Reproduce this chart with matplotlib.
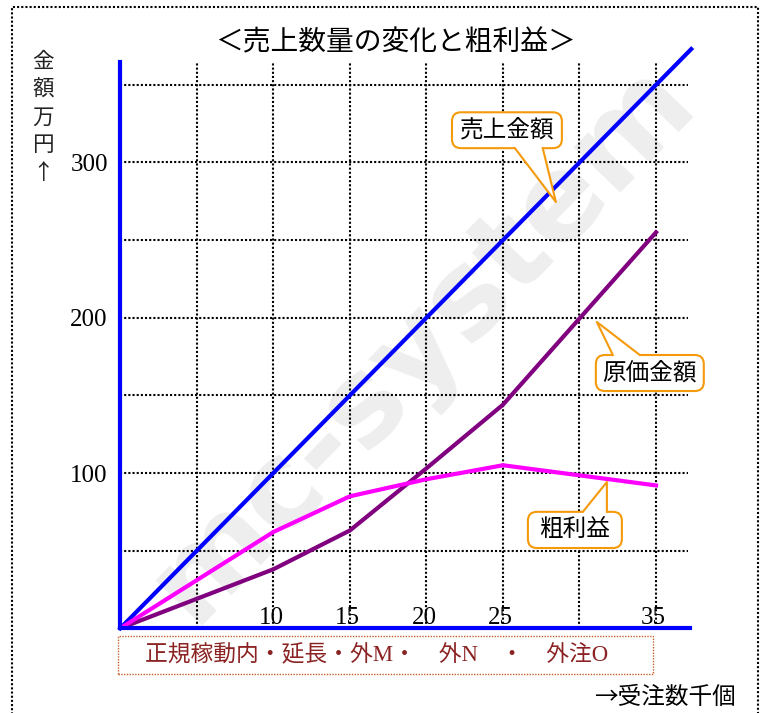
import matplotlib
matplotlib.use("Agg")
import matplotlib.pyplot as plt
from matplotlib.patches import FancyBboxPatch, Polygon, Rectangle
from matplotlib.transforms import IdentityTransform

# data (千個 -> 万円)
qty = [0, 10, 15, 20, 25, 35]
sales_qty = [0, 37.3]
sales = [0, 373]
cost = [0, 38, 63, 103, 144, 255]
profit = [0, 62, 85, 96, 105, 92]

x_ticks = [10, 15, 20, 25, 35]
y_ticks = [100, 200, 300]
x_grid = [5, 10, 15, 20, 25, 30, 35]
y_grid = [50, 100, 150, 200, 250, 300, 350]

JP = ["Noto Sans CJK JP", "DejaVu Sans"]
SERIF = "Liberation Serif"
ORANGE = "#F59A0A"

fig = plt.figure(figsize=(7.68, 7.13), dpi=100)
ax = fig.add_axes([0.1566, 0.1188, 0.7574, 0.8276])
ax.set_xlim(0, 38)
ax.set_ylim(0, 380)
ax.patch.set_visible(False)

# watermark
ax.text(0.55, 0.52, "mc-system", transform=fig.transFigure, rotation=46,
        fontsize=86, fontweight="bold", color="#EEEEEE", ha="center",
        va="center", zorder=0.2, clip_on=False)

# dotted grid
dot = (0, (1, 1))
ax.vlines(x_grid, 0, 365, colors="black", linestyles=dot, lw=1.5, zorder=1)
ax.hlines(y_grid, 0, 37.1, colors="black", linestyles=dot, lw=1.5, zorder=1)

# axes in blue
for s in ["top", "right"]:
    ax.spines[s].set_visible(False)
ax.spines["left"].set_bounds(0, 365)
ax.spines["bottom"].set_bounds(0, 37.2)
for s in ["left", "bottom"]:
    ax.spines[s].set_color("#0000FF")
    ax.spines[s].set_linewidth(3)
    ax.spines[s].set_zorder(3)

ax.set_yticks(y_ticks)
ax.set_yticklabels([str(v) for v in y_ticks], fontfamily=SERIF, fontsize=18)
ax.tick_params(axis="y", length=0, pad=9)
ax.set_xticks([])
for v in x_ticks:
    ax.text(v - 0.15, 2.5, str(v), ha="center", va="baseline", fontfamily=SERIF,
            fontsize=18, zorder=4)

ax.plot(sales_qty, sales, color="#0000FF", lw=3, zorder=2, clip_on=False)
ax.plot(qty, cost, color="#800080", lw=3, zorder=2)
ax.plot(qty, profit, color="#FF00FF", lw=3, zorder=2)


def callout(label, box, base, tip):
    t = ax.transData
    (x0, y0), (x1, y1) = t.transform([(box[0], box[1]), (box[2], box[3])])
    ax.add_patch(FancyBboxPatch((x0, y0), x1 - x0, y1 - y0,
                                boxstyle="round,pad=0,rounding_size=9",
                                transform=IdentityTransform(), fc="white",
                                ec=ORANGE, lw=1.5, zorder=5, clip_on=False))
    (ax0, ay), (bx0, _), (tx, ty) = t.transform([(base[0], base[2]),
                                                 (base[1], base[2]), tip])
    inside = 3 if ty < ay else -3
    ax.add_patch(Polygon([(ax0, ay + inside), (ax0, ay), (tx, ty), (bx0, ay),
                          (bx0, ay + inside)], closed=True,
                         transform=IdentityTransform(), fc="white", ec="none",
                         zorder=6, clip_on=False))
    ax.plot([ax0, tx, bx0], [ay, ty, ay], color=ORANGE, lw=1.5,
            transform=IdentityTransform(), zorder=7, clip_on=False)
    ax.text((x0 + x1) / 2, (y0 + y1) / 2, label, transform=IdentityTransform(),
            ha="center", va="center", fontfamily=JP, fontsize=17, zorder=8)


callout("売上金額", (21.67, 309.2, 28.85, 332.3), (25.78, 27.6, 309.2), (28.46, 274.5))
callout("原価金額", (31.07, 152.8, 38.12, 176), (32.18, 33.94, 176), (31.13, 197.3))
callout("粗利益", (26.63, 51.7, 32.77, 75), (30.22, 31.79, 75), (31.79, 94.2))

# bottom legend-like box
ax.add_patch(Rectangle((-0.15, -29.4), 34.95, 24.4, fill=False, ec="#C4622D",
                       ls=dot, lw=1, clip_on=False))
ax.text(1.6, -17.3, "正規稼動内・延長・外M・　外N　・　外注O", ha="left",
        va="center", fontfamily=[SERIF, "Noto Sans CJK JP"], fontsize=16.4,
        color="#8B2323")

# titles and labels
fig.text(0.515, 0.941, "＜売上数量の変化と粗利益＞", ha="center", va="center",
         fontfamily=JP, fontsize=20)
for i, ch in enumerate("金額万円↑"):
    fig.text(0.056, 1 - (62 + 27.8 * i) / 713, ch, ha="center", va="center",
             fontfamily=JP, fontsize=15.5, color="#222222")
fig.text(0.958, 1 - 697 / 713, "→受注数千個", ha="right", va="center",
         fontfamily=JP, fontsize=17)

# dotted outer frame
fig.add_artist(Rectangle((12 / 768, -0.02), 746 / 768, 1 - 7 / 713 + 0.02,
                         transform=fig.transFigure, fill=False, ec="black",
                         ls=dot, lw=1.5))

fig.savefig("out.png", dpi=100)
